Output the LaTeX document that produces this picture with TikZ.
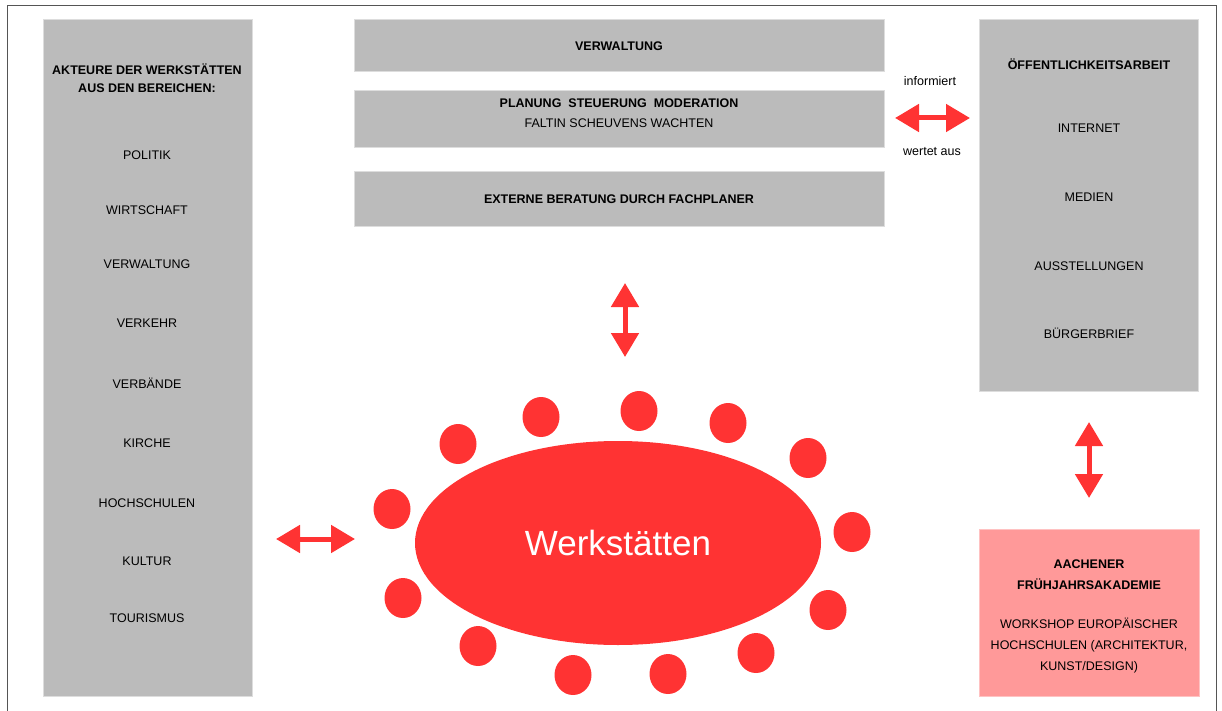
\documentclass[tikz,border=0pt]{standalone}
\usepackage{fontspec}
\setmainfont{Liberation Sans}
\usepackage{tikz}
\usepackage{xcolor}
\usetikzlibrary{positioning, arrows.meta}
\usetikzlibrary{shapes, positioning}

\definecolor{boxgray}{HTML}{BBBBBB}
\definecolor{boxpink}{HTML}{FF9999}
\definecolor{wred}{HTML}{FF3333}
\definecolor{framegray}{HTML}{555555}

\tikzset{
    graybox/.style={rectangle, fill=boxgray, draw=boxgray!50!white, line width=0.8pt, inner sep=0pt},
    pinkbox/.style={rectangle, fill=boxpink, draw=boxpink!60!white, line width=0.8pt, inner sep=0pt},
    txt/.style={inner sep=0pt, anchor=base, font=\fontsize{12.5}{15}\selectfont},
    txtbold/.style={txt, font=\bfseries\fontsize{12.5}{15}\selectfont},
    txtsmall/.style={inner sep=0pt, anchor=base, font=\fontsize{12.5}{14}\selectfont},
    seat/.style={ellipse, fill=wred, minimum width=37, minimum height=40, inner sep=0pt},
    dblarrow/.style={draw=wred, line width=5pt, {Triangle[width=27pt,length=24pt]}-{Triangle[width=27pt,length=24pt]}}
}

\begin{document}
\begin{tikzpicture}[x=1pt, y=-1pt]
            \useasboundingbox (0, 0) rectangle (1222, 711);
            \draw[framegray, line width=1pt] (7, 711) -- (7, 6) -- (1216, 6) -- (1216, 711);

            % Akteure
            \node[graybox, minimum width=209, minimum height=677] (akteure) at (147.5, 357.5) {};
            \node[txtbold] (akt1) at (147, 75) {AKTEURE DER WERKSTÄTTEN};
            \node[txtbold] (akt2) at (147, 93) {AUS DEN BEREICHEN:};
            \node[txt] (politik) at (147, 159.5) {POLITIK};
            \node[txt] (wirtschaft) at (147, 214.5) {WIRTSCHAFT};
            \node[txt] (verwaltung) at (147, 268.5) {VERWALTUNG};
            \node[txt] (verkehr) at (147, 327.5) {VERKEHR};
            \node[txt] (verbaende) at (147, 388.5) {VERBÄNDE};
            \node[txt] (kirche) at (147, 447.5) {KIRCHE};
            \node[txt] (hochschulen) at (147, 507.5) {HOCHSCHULEN};
            \node[txt] (kultur) at (147, 565.5) {KULTUR};
            \node[txt] (tourismus) at (147, 622) {TOURISMUS};

            % Steuerung
            \node[graybox, minimum width=530, minimum height=52] (verw) at (619, 45) {};
            \node[txtbold] (verwtext) at (619, 50.5) {VERWALTUNG};
            \node[graybox, minimum width=530, minimum height=57] (planung) at (619, 118.5) {};
            \node[txtbold] (plan1) at (619, 107.5) {PLANUNG\ \ STEUERUNG\ \ MODERATION};
            \node[txt] (plan2) at (619, 127.5) {FALTIN SCHEUVENS WACHTEN};
            \node[graybox, minimum width=530, minimum height=55] (extern) at (619, 198.5) {};
            \node[txtbold] (externtext) at (619, 203.5) {EXTERNE BERATUNG DURCH FACHPLANER};

            % Oeffentlichkeit
            \node[graybox, minimum width=219, minimum height=372] (oeff) at (1088.5, 205) {};
            \node[txtbold] (oeff0) at (1089, 69.5) {ÖFFENTLICHKEITSARBEIT};
            \node[txt] (internet) at (1089, 132.5) {INTERNET};
            \node[txt] (medien) at (1089, 201.5) {MEDIEN};
            \node[txt] (ausst) at (1089, 270.5) {AUSSTELLUNGEN};
            \node[txt] (brief) at (1089, 338.5) {BÜRGERBRIEF};
            \node[txtsmall] (inform) at (930, 86) {informiert};
            \node[txtsmall] (wertet) at (932, 156) {wertet aus};

            % Akademie
            \node[pinkbox, minimum width=220, minimum height=167] (akademie) at (1089, 612.5) {};
            \node[txtbold] (aka1) at (1089, 568.5) {AACHENER};
            \node[txtbold] (aka2) at (1089, 589.5) {FRÜHJAHRSAKADEMIE};
            \node[txt] (aka3) at (1089, 628.5) {WORKSHOP EUROPÄISCHER};
            \node[txt] (aka4) at (1089, 649.5) {HOCHSCHULEN (ARCHITEKTUR,};
            \node[txt] (aka5) at (1089, 670.5) {KUNST/DESIGN)};

            % Werkstaetten
            \node[ellipse, fill=wred, minimum width=406, minimum height=204, inner sep=0pt,
                  text=white, font=\fontsize{35}{40}\selectfont] (werk) at (618, 543) {Werkstätten};
            \node[seat] (c1) at (458, 444) {};
            \node[seat] (c2) at (541, 417) {};
            \node[seat] (c3) at (639, 411) {};
            \node[seat] (c4) at (728, 423) {};
            \node[seat] (c5) at (808, 458) {};
            \node[seat] (c6) at (852, 532) {};
            \node[seat] (c7) at (828, 610) {};
            \node[seat] (c8) at (756, 653) {};
            \node[seat] (c9) at (668, 674) {};
            \node[seat] (c10) at (573, 675) {};
            \node[seat] (c11) at (478, 646) {};
            \node[seat] (c12) at (403, 598) {};
            \node[seat] (c13) at (392, 509) {};

            % Pfeile
            \coordinate (p1) at (895, 118);
            \coordinate (p2) at (970, 118);
            \coordinate (p3) at (625, 283);
            \coordinate (p4) at (625, 357);
            \coordinate (p5) at (276, 539);
            \coordinate (p6) at (355, 539);
            \coordinate (p7) at (1089, 422);
            \coordinate (p8) at (1089, 498);

            \draw[dblarrow] (p1) -- (p2);
            \draw[dblarrow] (p3) -- (p4);
            \draw[dblarrow] (p5) -- (p6);
            \draw[dblarrow] (p7) -- (p8);
        \end{tikzpicture}
\end{document}
